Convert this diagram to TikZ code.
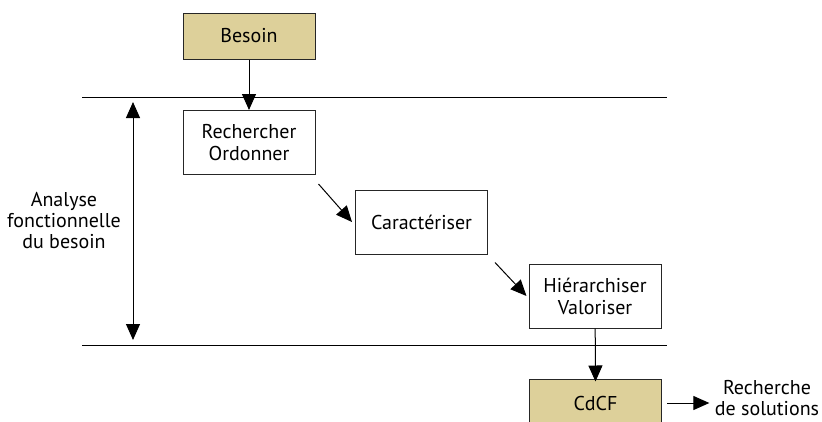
\documentclass[tikz,border=0pt]{standalone}
\usepackage{fontspec}
\setmainfont{PT Sans}
\usetikzlibrary{arrows.meta}

\definecolor{sable}{HTML}{DDD09A}

\tikzset{
  boite/.style={draw=black!85, line width=1pt, minimum width=132, minimum height=64,
    align=center, inner sep=0pt, font=\fontsize{20}{22}\selectfont},
  boitesable/.style={boite, fill=sable, minimum height=46},
  fleche/.style={-{Triangle[length=16,width=14]}, line width=1pt},
  texte/.style={align=center, font=\fontsize{20}{21}\selectfont}
}

\begin{document}
\begin{tikzpicture}[x=1pt,y=-1pt]
\useasboundingbox (0,0) rectangle (822,421);

% limites de l'analyse
\coordinate (hg) at (82,97);
\coordinate (hd) at (667,97);
\coordinate (bg) at (82,345);
\coordinate (bd) at (667,345);
\draw[line width=1pt] (hg) -- (hd);
\draw[line width=1pt] (bg) -- (bd);

\node[boitesable] (besoin) at (249,36) {Besoin};
\node[boite] (rech) at (249,142.5) {Rechercher\\Ordonner};
\node[boite] (car) at (421.5,222) {Caractériser};
\node[boite] (hier) at (595,296) {Hiérarchiser\\Valoriser};
\node[boitesable, minimum height=48] (cdcf) at (595.5,403) {CdCF};

\node[texte] (sol) at (767,398) {Recherche\\de solutions};
\node[texte] (afb) at (64,221) {Analyse\\fonctionnelle\\du besoin};

\draw[fleche] (besoin) -- (rech);
\draw[fleche] ([shift={(3,9)}]rech.south east) -- ([xshift=-3]car.west);
\draw[fleche] ([shift={(7,8)}]car.south east) -- ([xshift=-2]hier.west);
\draw[fleche] (hier) -- ([yshift=-3]cdcf.north);
\draw[fleche] ([xshift=5]cdcf.east) -- ([xshift=-2]sol.west |- cdcf.east);

% fleche double
\coordinate (dh) at (133,102);
\coordinate (db) at (133,340);
\draw[{Triangle[length=16,width=14]}-{Triangle[length=16,width=14]}, line width=1pt] (dh) -- (db);
\end{tikzpicture}
\end{document}
